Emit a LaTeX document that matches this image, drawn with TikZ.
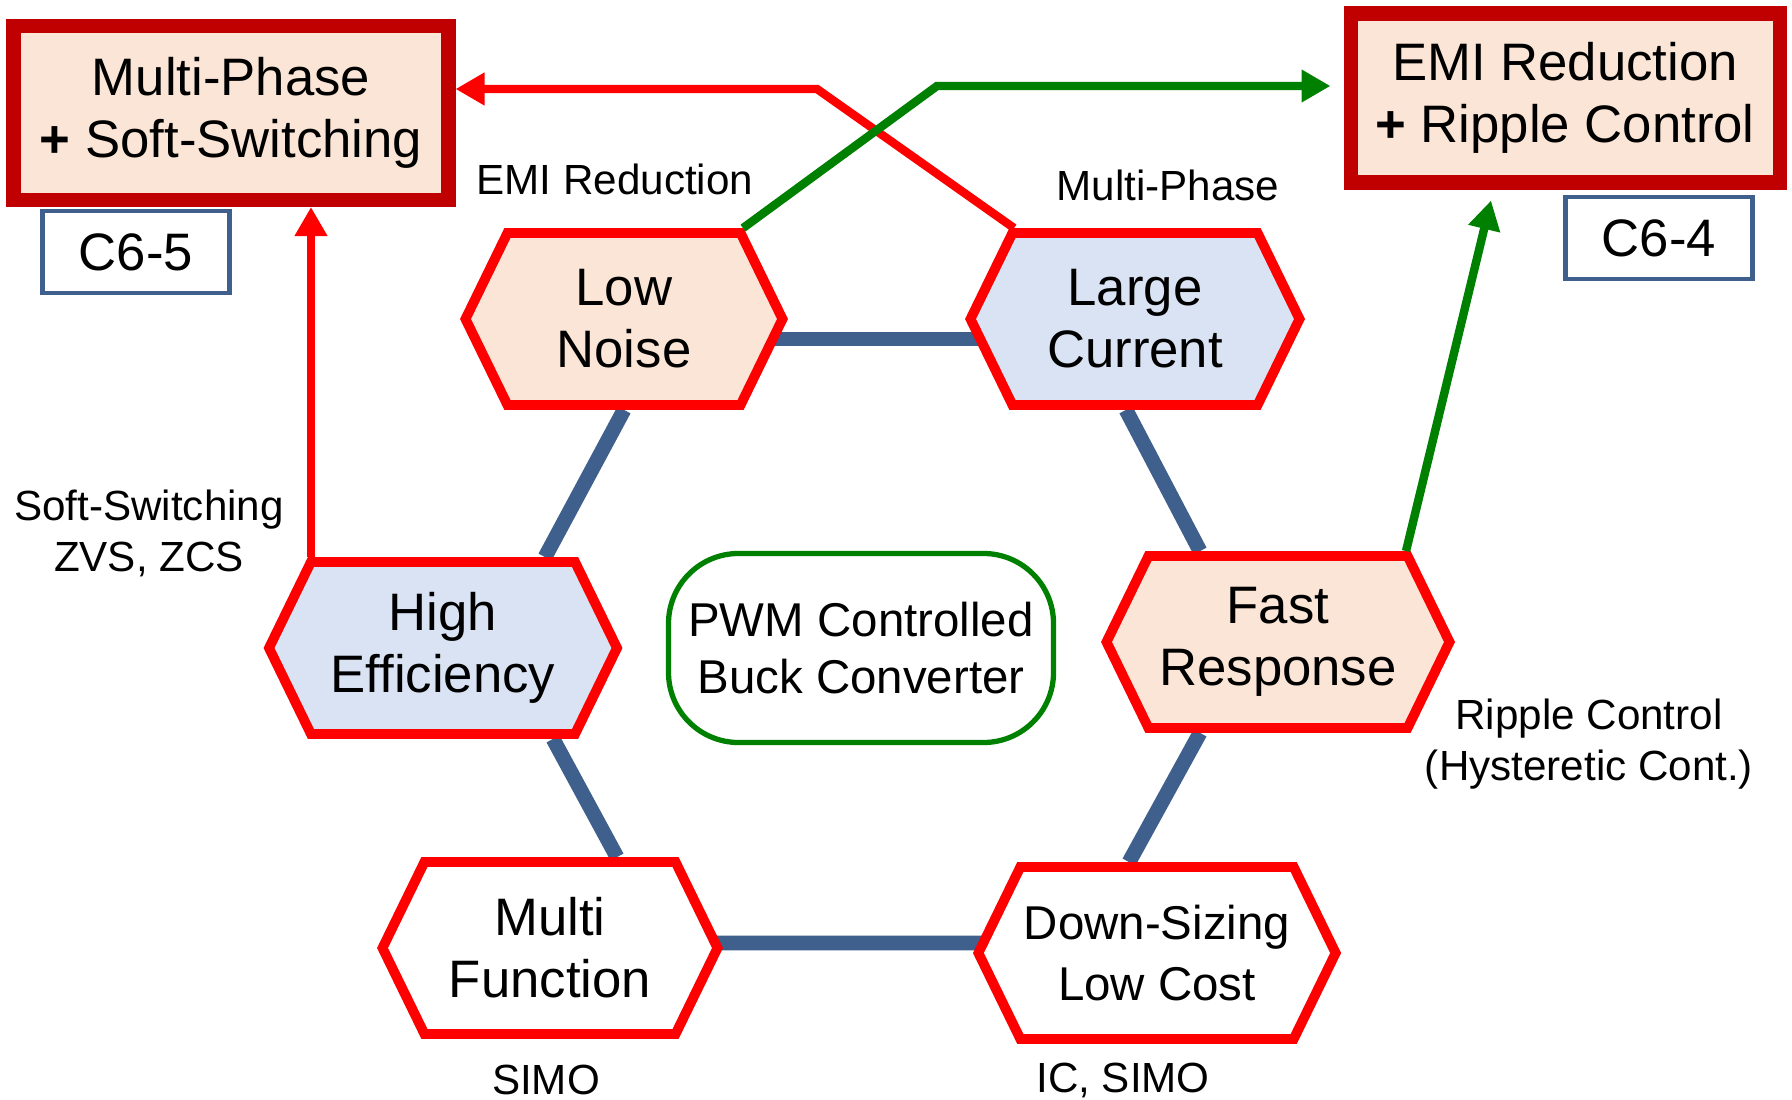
\documentclass[tikz,border=0pt]{standalone}
\usepackage{fontspec}
\setmainfont{Liberation Sans}
\usetikzlibrary{shapes.symbols, arrows.meta, backgrounds, calc}
\definecolor{boxred}{HTML}{C00000}
\definecolor{hexred}{HTML}{FF0000}
\definecolor{peach}{HTML}{FBE5D6}
\definecolor{paleblue}{HTML}{DAE3F3}
\definecolor{linkblue}{HTML}{3F5F8C}
\definecolor{pwmgreen}{HTML}{008000}
\tikzset{
  % target of the combined features
  goal/.style={draw=boxred, line width=4pt, fill=peach, align=center,
    font=\fontsize{15}{17.6}\selectfont, minimum width=4.35cm, minimum height=1.74cm},
  % chapter tag
  tag/.style={draw=linkblue, line width=1.4pt, fill=white,
    font=\fontsize{15}{18}\selectfont, minimum width=1.87cm, minimum height=0.82cm},
  % one feature of the converter
  feat/.style={signal, signal to=east and west, signal pointer angle=128,
    draw=hexred, line width=2.8pt, align=center, inner sep=1pt,
    font=\fontsize{15}{17.6}\selectfont, minimum height=1.72cm},
  % ring between the features
  link/.style={linkblue, line width=4.2pt},
  % combining arrows
  redpath/.style={hexred, line width=2.4pt, -{Triangle[length=0.29cm, width=0.31cm]}},
  greenpath/.style={pwmgreen, line width=2.4pt, -{Triangle[length=0.29cm, width=0.31cm]}},
  % small side notes
  note/.style={font=\fontsize{12}{14.5}\selectfont, align=center},
}
\begin{document}
\begin{tikzpicture}[x=0.1mm, y=-0.1mm]
  \useasboundingbox (0,0) rectangle (1792,1100);

  % the six features
  \node[feat, fill=peach, minimum width=3.17cm] (lown) at (624,319) {Low\\Noise};
  \node[feat, fill=paleblue, minimum width=3.29cm] (large) at (1135,319) {Large\\Current};
  \node[feat, fill=paleblue, minimum width=3.48cm] (high) at (443,648) {High\\Efficiency};
  \node[feat, fill=peach, minimum width=3.43cm] (fast) at (1278,642) {Fast\\Response};
  \node[feat, fill=white, minimum width=3.35cm] (multi) at (550,948) {Multi\\Function};
  \node[feat, fill=white, minimum width=3.48cm, font=\fontsize{13.5}{17.6}\selectfont] (down) at (1157,953) {Down-Sizing\\Low Cost};

  % converter in the middle
  \node[draw=pwmgreen, line width=1.5pt, rounded corners=0.7cm, minimum width=3.85cm,
    minimum height=1.89cm, align=center, font=\fontsize{13.5}{16.2}\selectfont] (pwm) at (861,648)
    {PWM Controlled\\Buck Converter};

  % combined targets and their tags
  \node[goal] (mp) at (231,113) {Multi-Phase\\\textbf{+} Soft-Switching};
  \node[tag] (c65) at (136,252) {C6-5};
  \node[goal, minimum width=4.29cm, minimum height=1.69cm] (emi) at (1565,98) {EMI Reduction\\\textbf{+} Ripple Control};
  \node[tag] (c64) at (1659,238) {C6-4};

  % ring
  \begin{scope}[on background layer]
    \draw[link] ([xshift=-0.3cm, yshift=-0.2cm]lown.east) -- ([xshift=0.3cm, yshift=-0.2cm]large.west);
    \draw[link] (lown.south) -- ([xshift=1.02cm]high.north);
    \draw[link] ([xshift=1.1cm]high.south) -- ([xshift=0.67cm]multi.north);
    \draw[link] ([xshift=-0.3cm, yshift=0.05cm]multi.east) -- ([xshift=0.3cm, yshift=0.1cm]down.west);
    \draw[link] ([xshift=-0.28cm]down.north) -- ([xshift=-0.78cm]fast.south);
    \draw[link] ([xshift=-0.78cm]fast.north) -- ([xshift=-0.09cm]large.south);
  \end{scope}

  % arrows to the targets
  \coordinate (rbend) at (817,89);
  \coordinate (gbend) at (937,86);
  \draw[redpath] ([xshift=-1.21cm]large.north) -- (rbend) -- (rbend -| mp.east);
  \draw[redpath] ([xshift=-1.32cm]high.north) -- ([xshift=-1.32cm]high.north |- mp.south);
  \draw[greenpath, shorten >=0.13cm] ([xshift=1.19cm]lown.north) -- (gbend) -- (gbend -| emi.west);
  \draw[greenpath] ([xshift=1.28cm]fast.north) -- ([xshift=-0.74cm, yshift=-0.11cm]emi.south);

  % side notes
  \node[note] (nemi) at (615,179) {EMI Reduction};
  \node[note] (nmp) at (1168,185) {Multi-Phase};
  \node[note] (nsoft) at (149,533) {Soft-Switching\\ZVS, ZCS};
  \node[note] (nrip) at (1589,744) {Ripple Control\\(Hysteretic Cont.)};
  \node[note] (nsimo) at (546,1080) {SIMO};
  \node[note] (nic) at (1123,1080) {IC, SIMO};
\end{tikzpicture}
\end{document}
